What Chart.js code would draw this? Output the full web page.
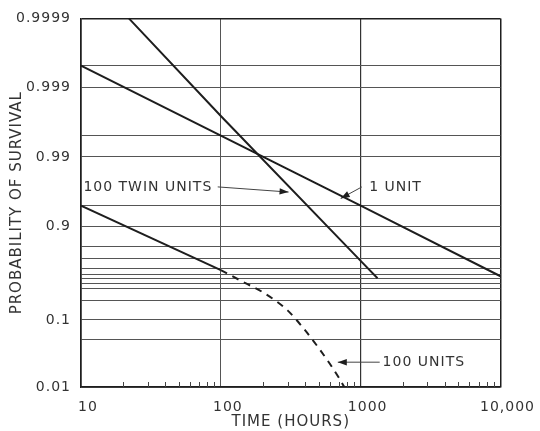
<!DOCTYPE html>
<html><head><meta charset="utf-8">
<script src="https://cdn.jsdelivr.net/npm/chart.js@4/dist/chart.umd.min.js"></script>
<style>html,body{margin:0;padding:0;background:#fff;}#wrap{width:540px;height:431px;position:relative;}canvas{display:block;}</style>
</head><body><div id="wrap"><canvas id="c" width="540" height="431" style="width:540px;height:431px"></canvas></div>
<script>
// ---------------- data ----------------
const timeTicks = [10, 100, 1000, 10000];
const timeTickLabels = ['10', '100', '1000', '10,000'];
const survivalTicks = [0.9999, 0.999, 0.99, 0.9, 0.1, 0.01];
const survivalTickLabels = ['0.9999', '0.999', '0.99', '0.9', '0.1', '0.01'];

const oneUnitTime = [10, 100, 1000, 10000];
const oneUnitSurvival = [0.9995, 0.995, 0.95, 0.45];

const twinUnitsTime = [22, 100, 1000, 1320];
const twinUnitsSurvival = [0.9999, 0.9974, 0.68, 0.4];

const hundredUnitsTime = [10, 100];
const hundredUnitsSurvival = [0.95, 0.57];

const hundredUnitsDashedTime = [100, 150, 200, 300, 400, 500, 600, 700, 760];
const hundredUnitsDashedSurvival = [0.57, 0.3, 0.232, 0.144, 0.0716, 0.0398, 0.0243, 0.0144, 0.0102];

const labelTexts = ['100 TWIN UNITS', '1 UNIT', '100 UNITS'];

// ---------------- probability-paper scale ----------------
// ruling of the printed probability paper (gridline values and their relative height)
const PAPER = {
  values:  [0.01, 0.05, 0.1, 0.2, 0.25, 0.3, 0.4, 0.5, 0.6, 0.7, 0.8, 0.9, 0.95, 0.99, 0.995, 0.999, 0.9995, 0.9999],
  heights: [0, 0.128, 0.1819, 0.2358, 0.2682, 0.2817, 0.2951, 0.3059, 0.3221, 0.3477, 0.3814, 0.4367, 0.492, 0.624, 0.682, 0.8127, 0.872, 1]
};
const weib = p => Math.log10(-Math.log(p));
function paperFraction(p) {
  const v = PAPER.values, h = PAPER.heights;
  if (p <= v[0]) return h[0];
  for (let i = 0; i < v.length - 1; i++) {
    if (p <= v[i + 1]) {
      const a = weib(v[i]), b = weib(v[i + 1]);
      const t = (weib(p) - a) / (b - a);
      return h[i] + t * (h[i + 1] - h[i]);
    }
  }
  return h[h.length - 1];
}
function paperValue(f) {
  const v = PAPER.values, h = PAPER.heights;
  if (f <= h[0]) return v[0];
  for (let i = 0; i < h.length - 1; i++) {
    if (f <= h[i + 1]) {
      const t = (f - h[i]) / (h[i + 1] - h[i]);
      const w = weib(v[i]) + t * (weib(v[i + 1]) - weib(v[i]));
      return Math.exp(-Math.pow(10, w));
    }
  }
  return v[v.length - 1];
}
class ProbabilityScale extends Chart.Scale {
  determineDataLimits() { this.min = PAPER.values[0]; this.max = PAPER.values[PAPER.values.length - 1]; }
  buildTicks() { return PAPER.values.map(value => ({ value })); }
  getLabelForValue(value) { return String(value); }
  getPixelForValue(value) { return this.getPixelForDecimal(paperFraction(value)); }
  getPixelForTick(index) {
    const ticks = this.ticks;
    if (index < 0 || index > ticks.length - 1) return null;
    return this.getPixelForValue(ticks[index].value);
  }
  getValueForPixel(pixel) { return paperValue(this.getDecimalForPixel(pixel)); }
}
ProbabilityScale.id = 'probability';
ProbabilityScale.defaults = {};
Chart.register(ProbabilityScale);

// ---------------- helpers ----------------
const pts = (xs, ys) => xs.map((x, i) => ({ x, y: ys[i] }));
const INK = '#1e1e1e';
const TEXT = '#333';
const FONT = 'DejaVu Sans';

// wide lettering like the original drawing
const letteringPlugin = {
  id: 'lettering',
  beforeUpdate(chart) { chart.ctx.letterSpacing = '1px'; },
  beforeLayout(chart) { chart.ctx.letterSpacing = '1px'; },
  beforeDraw(chart) { chart.ctx.letterSpacing = '1px'; }
};

// minor tick marks along the time axis
const minorTicksPlugin = {
  id: 'minorTicks',
  afterDatasetsDraw(chart) {
    const xs = chart.scales.x, bottom = chart.chartArea.bottom, ctx = chart.ctx;
    ctx.save();
    ctx.strokeStyle = '#444';
    ctx.lineWidth = 1;
    for (let d = timeTicks[0]; d < timeTicks[timeTicks.length - 1]; d *= 10) {
      for (let k = 2; k <= 9; k++) {
        const x = Math.round(xs.getPixelForValue(k * d)) + 0.5;
        ctx.beginPath(); ctx.moveTo(x, bottom); ctx.lineTo(x, bottom - 5); ctx.stroke();
      }
    }
    ctx.restore();
  }
};

// callouts (anchored in data coordinates: time, survival)
const callouts = [
  { text: labelTexts[0], at: [10.4, 0.973], tail: [95, 0.973], head: [305, 0.968] },
  { text: labelTexts[1], at: [1150, 0.973], tail: [1020, 0.973], head: [720, 0.9605] },
  { text: labelTexts[2], at: [1435, 0.0254], tail: [1368, 0.0254], head: [686, 0.0254] }
];
const calloutPlugin = {
  id: 'callouts',
  afterDatasetsDraw(chart) {
    const xs = chart.scales.x, ys = chart.scales.y, ctx = chart.ctx;
    ctx.save();
    ctx.letterSpacing = '1px';
    ctx.font = '14px "' + FONT + '"';
    ctx.textBaseline = 'middle';
    ctx.textAlign = 'left';
    callouts.forEach(c => {
      ctx.fillStyle = TEXT;
      ctx.fillText(c.text, xs.getPixelForValue(c.at[0]), ys.getPixelForValue(c.at[1]));
      const x1 = xs.getPixelForValue(c.tail[0]), y1 = ys.getPixelForValue(c.tail[1]);
      const x2 = xs.getPixelForValue(c.head[0]), y2 = ys.getPixelForValue(c.head[1]);
      ctx.strokeStyle = '#444'; ctx.lineWidth = 1;
      ctx.beginPath(); ctx.moveTo(x1, y1); ctx.lineTo(x2, y2); ctx.stroke();
      const a = Math.atan2(y2 - y1, x2 - x1), L = 9, W = 3.2;
      ctx.fillStyle = INK;
      ctx.beginPath();
      ctx.moveTo(x2, y2);
      ctx.lineTo(x2 - L * Math.cos(a) + W * Math.sin(a), y2 - L * Math.sin(a) - W * Math.cos(a));
      ctx.lineTo(x2 - L * Math.cos(a) - W * Math.sin(a), y2 - L * Math.sin(a) + W * Math.cos(a));
      ctx.closePath(); ctx.fill();
    });
    ctx.restore();
  }
};

const lineStyle = { borderColor: INK, borderWidth: 2, pointRadius: 0, fill: false, tension: 0 };

new Chart(document.getElementById('c'), {
  type: 'line',
  data: {
    datasets: [
      Object.assign({ label: '1 UNIT', data: pts(oneUnitTime, oneUnitSurvival) }, lineStyle),
      Object.assign({ label: '100 TWIN UNITS', data: pts(twinUnitsTime, twinUnitsSurvival) }, lineStyle),
      Object.assign({ label: '100 UNITS', data: pts(hundredUnitsTime, hundredUnitsSurvival) }, lineStyle),
      Object.assign({ label: '100 UNITS (extrapolated)', data: pts(hundredUnitsDashedTime, hundredUnitsDashedSurvival) }, lineStyle, { borderDash: [7, 6], cubicInterpolationMode: 'monotone' })
    ]
  },
  options: {
    responsive: false,
    animation: false,
    events: [],
    layout: { padding: { top: 16, right: 39, bottom: 0, left: 0 } },
    plugins: { legend: { display: false }, tooltip: { enabled: false } },
    scales: {
      x: {
        type: 'logarithmic',
        min: timeTicks[0],
        max: timeTicks[timeTicks.length - 1],
        afterFit: s => { s.height = 44; },
        grid: {
          drawTicks: false,
          color: c => !(c.tick && timeTicks.includes(c.tick.value)) ? 'rgba(0,0,0,0)' : (c.tick.value === 100 ? '#555' : (c.tick.value === 1000 ? '#333' : INK)),
          lineWidth: c => (c.tick && c.tick.value === 100) ? 1 : (c.tick && c.tick.value === 1000 ? 1.2 : 1.5)
        },
        border: { color: INK, width: 1.5 },
        ticks: {
          autoSkip: false, maxRotation: 0, padding: 12, labelOffset: 7,
          color: TEXT, font: { family: FONT, size: 14 },
          callback: v => { const i = timeTicks.indexOf(v); return i >= 0 ? timeTickLabels[i] : ''; }
        },
        title: { display: true, text: 'TIME (HOURS)', color: TEXT, font: { family: FONT, size: 15 }, padding: { top: 0, bottom: 0 } }
      },
      y: {
        type: 'probability',
        position: 'left',
        afterFit: s => { s.width = 81; },
        grid: {
          drawTicks: false,
          color: c => (c.tick && c.tick.value === 0.9999) ? INK : '#555',
          lineWidth: c => (c.tick && c.tick.value === 0.9999) ? 1.5 : 1
        },
        border: { color: INK, width: 1.5 },
        ticks: {
          autoSkip: false, padding: 10,
          color: TEXT, font: { family: FONT, size: 14 },
          callback: v => { const i = survivalTicks.indexOf(v); return i >= 0 ? survivalTickLabels[i] : ''; }
        },
        title: { display: true, text: 'PROBABILITY OF SURVIVAL', color: TEXT, font: { family: FONT, size: 15 }, padding: { top: 8, bottom: 0 } }
      }
    }
  },
  plugins: [letteringPlugin, minorTicksPlugin, calloutPlugin]
});
</script></body></html>
